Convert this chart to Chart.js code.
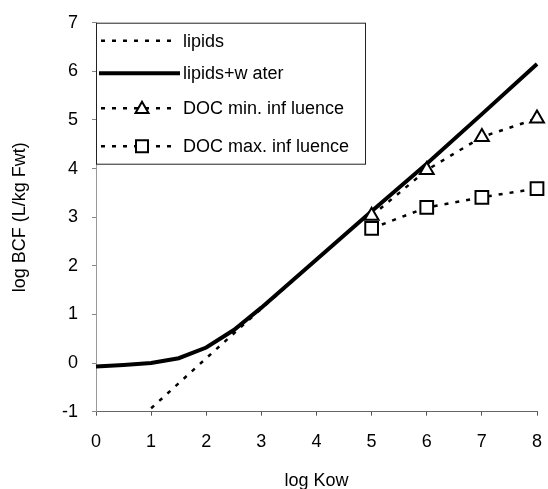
<!DOCTYPE html>
<html lang="en">
<head>
    <meta charset="UTF-8">
    <title>log BCF vs log Kow</title>
    <script src="https://cdn.jsdelivr.net/npm/chart.js"></script>
    <style>
        body {
            margin: 0;
            padding: 0;
            background-color: #fff;
        }
        .container {
            width: 548px;
            height: 489px;
            position: relative;
        }
    </style>
</head>
<body>

    <div class="container">
        <canvas id="graficoBCF"></canvas>
    </div>

    <script>
        // data
        const kowLipids = [1, 2, 3, 4, 5, 6, 7, 8];
        const bcfLipids = [-0.93, 0.1, 1.12, 2.12, 3.12, 4.1, 5.12, 6.15];

        const kowWater = [0, 0.5, 1, 1.5, 2, 2.5, 3, 4, 5, 6, 7, 8];
        const bcfWater = [-0.07, -0.04, 0.0, 0.1, 0.32, 0.68, 1.14, 2.13, 3.12, 4.1, 5.12, 6.15];

        const kowDoc = [5, 6, 7, 8];
        const bcfDocMin = [3.03, 3.97, 4.65, 5.03];
        const bcfDocMax = [2.77, 3.2, 3.41, 3.59];

        const labels = ["lipids", "lipids+w ater", "DOC min. inf luence", "DOC max. inf luence"];

        const fonte = "'Liberation Sans', Arial, sans-serif";

        function pontos(xs, ys) {
            return xs.map((x, i) => ({ x: x, y: ys[i] }));
        }

        // desenha o marcador (triangulo ou quadrado) vazado
        function marcador(ctx, tipo, x, y) {
            ctx.save();
            ctx.setLineDash([]);
            ctx.lineWidth = 2;
            ctx.strokeStyle = "#000";
            ctx.fillStyle = "#fff";
            ctx.beginPath();
            if (tipo === "triangle") {
                const r = 7.5;
                ctx.moveTo(x, y - r);
                ctx.lineTo(x + r * 0.866, y + r * 0.5);
                ctx.lineTo(x - r * 0.866, y + r * 0.5);
                ctx.closePath();
            } else {
                ctx.rect(x - 6, y - 6, 12, 12);
            }
            ctx.fill();
            ctx.stroke();
            ctx.restore();
        }

        // legenda dentro da area do grafico, canto superior esquerdo
        const legendaCaixa = {
            id: "legendaCaixa",
            afterDraw(chart) {
                const ctx = chart.ctx;
                const x0 = chart.chartArea.left;
                const y0 = chart.chartArea.top;
                ctx.save();
                ctx.fillStyle = "#fff";
                ctx.fillRect(x0, y0, 269, 141);
                ctx.strokeStyle = "#222";
                ctx.lineWidth = 1;
                ctx.strokeRect(x0 + 0.5, y0 + 0.5, 269, 141);

                const linhas = [18, 50.5, 85.5, 123.5];
                ctx.font = "18px " + fonte;
                ctx.textBaseline = "middle";
                ctx.fillStyle = "#000";
                linhas.forEach((dy, i) => {
                    const y = y0 + dy;
                    ctx.beginPath();
                    ctx.strokeStyle = "#000";
                    if (i === 1) {
                        ctx.setLineDash([]);
                        ctx.lineWidth = 4;
                        ctx.moveTo(x0 + 3, y);
                        ctx.lineTo(x0 + 84, y);
                    } else {
                        ctx.setLineDash([4, 7]);
                        ctx.lineWidth = 2.5;
                        ctx.moveTo(x0 + 5, y);
                        ctx.lineTo(x0 + 78, y);
                    }
                    ctx.stroke();
                    if (i === 2) marcador(ctx, "triangle", x0 + 46, y + 1);
                    if (i === 3) marcador(ctx, "rect", x0 + 46, y);
                    ctx.setLineDash([]);
                    ctx.fillText(labels[i], x0 + 87, y + 1);
                });
                ctx.restore();
            }
        };

        const grafico = new Chart(document.getElementById("graficoBCF"), {
            type: "line",
            data: {
                datasets: [
                    {
                        label: labels[1],
                        data: pontos(kowWater, bcfWater),
                        borderColor: "#000",
                        borderWidth: 4,
                        pointRadius: 0,
                        clip: false,
                        order: 2
                    },
                    {
                        label: labels[0],
                        data: pontos(kowLipids, bcfLipids),
                        borderColor: "#000",
                        borderWidth: 2.5,
                        borderDash: [4, 7],
                        pointRadius: 0,
                        clip: false,
                        order: 3
                    },
                    {
                        label: labels[2],
                        data: pontos(kowDoc, bcfDocMin),
                        borderColor: "#000",
                        borderWidth: 2.5,
                        borderDash: [4, 7],
                        pointStyle: "triangle",
                        pointRadius: 8,
                        pointBorderWidth: 2,
                        pointBackgroundColor: "#fff",
                        pointBorderColor: "#000",
                        clip: false,
                        order: 1
                    },
                    {
                        label: labels[3],
                        data: pontos(kowDoc, bcfDocMax),
                        borderColor: "#000",
                        borderWidth: 2.5,
                        borderDash: [4, 7],
                        pointStyle: "rect",
                        pointRadius: 9,
                        pointBorderWidth: 2,
                        pointBackgroundColor: "#fff",
                        pointBorderColor: "#000",
                        clip: false,
                        order: 1
                    }
                ]
            },
            options: {
                responsive: true,
                maintainAspectRatio: false,
                animation: false,
                layout: {
                    padding: { top: 22.7, right: 6.3, bottom: 0, left: 0 }
                },
                scales: {
                    x: {
                        type: "linear",
                        min: 0,
                        max: 8,
                        ticks: {
                            stepSize: 1,
                            color: "#000",
                            font: { family: fonte, size: 18 },
                            padding: 16,
                            maxRotation: 0
                        },
                        grid: { drawOnChartArea: false, tickLength: 4, color: "#555" },
                        border: { color: "#666", width: 1 },
                        title: {
                            display: true,
                            text: "log Kow",
                            color: "#000",
                            font: { family: fonte, size: 18 },
                            padding: { top: 0, bottom: -3 }
                        },
                        afterFit(scale) {
                            scale.height = 77.3;
                            scale.paddingLeft = 0;
                            scale.paddingRight = 0;
                        }
                    },
                    y: {
                        min: -1,
                        max: 7,
                        ticks: {
                            stepSize: 1,
                            color: "#000",
                            font: { family: fonte, size: 18 },
                            padding: 14
                        },
                        grid: { drawOnChartArea: false, tickLength: 4, color: "#888" },
                        border: { color: "#999", width: 1, dash: [2, 1] },
                        title: {
                            display: true,
                            text: "log BCF (L/kg Fwt)",
                            color: "#000",
                            font: { family: fonte, size: 18 },
                            padding: { top: 9, bottom: 0 }
                        },
                        afterFit(scale) {
                            scale.width = 96;
                            scale.paddingTop = 0;
                            scale.paddingBottom = 0;
                        }
                    }
                },
                plugins: {
                    legend: { display: false },
                    tooltip: { enabled: false }
                }
            },
            plugins: [legendaCaixa]
        });
    </script>

</body>
</html>
